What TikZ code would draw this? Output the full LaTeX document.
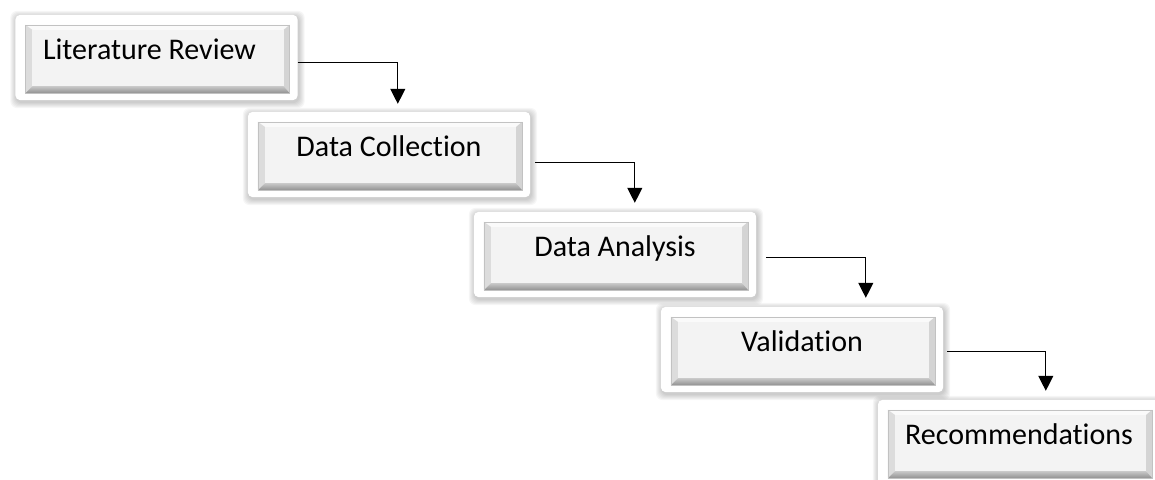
\documentclass[tikz,border=0pt]{standalone}
\usepackage{fontspec}
\setmainfont{Carlito}[Ligatures={NoCommon}]
\usetikzlibrary{calc,arrows.meta}
\pgfdeclarelayer{shadowl}
\pgfdeclarelayer{bevell}
\pgfsetlayers{shadowl,bevell,main}
\definecolor{facecol}{HTML}{F3F3F3}
\definecolor{topcol}{HTML}{FAFAFA}
\definecolor{leftcol}{HTML}{DCDCDC}
\definecolor{rightcol}{HTML}{D4D4D4}
\definecolor{botlight}{HTML}{C8C8C8}
\definecolor{botdark}{HTML}{909090}
\definecolor{rimcol}{HTML}{C2C2C2}
\tikzset{
  stagebox/.style={minimum width=282pt, minimum height=85pt, inner sep=0pt,
    text height=12pt, text depth=8pt, font=\fontsize{30}{35}\selectfont},
  flow/.style={-{Triangle[width=15pt,length=15pt]}, line width=1.2pt},
}
\newcommand\bevelbox[1]{%
  \begin{pgfonlayer}{shadowl}
    \foreach \k in {1,...,6}{
      \fill[black, opacity=0.035, rounded corners=7pt]
        ($(#1.north west)+(-\k+1,-\k+2)$) rectangle ($(#1.south east)+(\k+1,\k+2)$);
    }
  \end{pgfonlayer}
  \begin{pgfonlayer}{bevell}
    \fill[white, rounded corners=5pt] (#1.north west) rectangle (#1.south east);
    \path ($(#1.north west)+(10,10)$) coordinate (#1-o1)
          ($(#1.south east)+(-8,-7)$) coordinate (#1-o2);
    \path ($(#1-o1)+(7,5)$) coordinate (#1-i1)
          ($(#1-o2)+(-6,-7)$) coordinate (#1-i2);
    \fill[topcol] (#1-o1) -- (#1-o1 -| #1-o2) -- (#1-i1 -| #1-i2) -- (#1-i1) -- cycle;
    \fill[leftcol] (#1-o1) -- (#1-i1) -- (#1-i1 |- #1-i2) -- (#1-o1 |- #1-o2) -- cycle;
    \fill[rightcol] (#1-o1 -| #1-o2) -- (#1-o2) -- (#1-i2) -- (#1-i1 -| #1-i2) -- cycle;
    \shade[top color=botlight, bottom color=botdark]
      (#1-o1 |- #1-o2) -- (#1-i1 |- #1-i2) -- (#1-i2) -- (#1-o2) -- cycle;
    \fill[facecol] (#1-i1) rectangle (#1-i2);
    \draw[rimcol, line width=0.6pt] (#1-o1) rectangle (#1-o2);
  \end{pgfonlayer}
}
\begin{document}
\begin{tikzpicture}[x=1pt,y=-1pt]
  \useasboundingbox (0,0) rectangle (1155,479);
  \clip (0,0) rectangle (1155,479);
  \node[stagebox, text width=227pt, align=flush left] (b1) at (156.5,57.5) {Literature Review};
  \node[stagebox] (b2) at (389,154.5) {Data Collection};
  \node[stagebox] (b3) at (615,254.5) {Data Analysis};
  \node[stagebox] (b4) at (802,349.5) {Validation};
  \node[stagebox] (b5) at (1019,442.5) {Recommendations};
  \bevelbox{b1}
  \bevelbox{b2}
  \bevelbox{b3}
  \bevelbox{b4}
  \bevelbox{b5}
  \draw[flow] ($(b1.north east)+(0,48)$) -| ($(b2.north west)+(150,-8)$);
  \draw[flow] ($(b2.north east)+(5,51)$) -| ($(b3.north west)+(161,-9)$);
  \draw[flow] ($(b3.north east)+(10,46)$) -| ($(b4.north west)+(205,-9)$);
  \draw[flow] ($(b4.north east)+(4,45)$) -| ($(b5.north west)+(168,-9)$);
\end{tikzpicture}
\end{document}
